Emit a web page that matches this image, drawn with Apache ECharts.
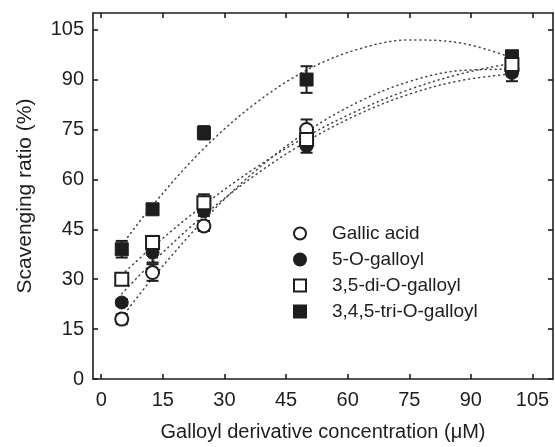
<!DOCTYPE html>
<html>
<head>
<meta charset="utf-8">
<script src="https://cdn.jsdelivr.net/npm/echarts@6/dist/echarts.min.js"></script>
<style>
  html, body { margin: 0; padding: 0; background: #fff; }
  #chart { width: 555px; height: 447px; }
</style>
</head>
<body>
<div id="chart"></div>
<script>
// ---- data ----
const xValues = [5, 12.5, 25, 50, 100];

const gallic    = [18, 32, 46, 75, 93];
const gallicErr = [1.5, 2.5, 1.5, 3, 2];
const mono      = [23, 38, 50.5, 70, 92];
const monoErr   = [1, 3, 1.5, 2, 2.5];
const di        = [30, 41, 53, 72, 94.5];
const diErr     = [1.5, 2, 2.5, 2.5, 2];
const tri       = [39, 51, 74, 90, 97];
const triErr    = [2.5, 1.5, 2, 4, 1.5];

// dotted trend curves
const trendX       = [5, 12.5, 25, 37.5, 50, 62.5, 75, 87.5, 100];
const gallicTrend  = [18.5, 30.3, 47.8, 62.5, 74.3, 83.2, 89.4, 92.7, 93.1];
const monoTrend    = [25.6, 35.1, 49.2, 61.3, 71.4, 79.5, 85.6, 89.7, 91.7];
const diTrend      = [31.3, 39.7, 52.3, 63.4, 72.9, 80.7, 87.0, 91.7, 94.9];
const triTrend     = [40.2, 52.2, 69.3, 82.8, 92.8, 99.1, 101.9, 101.0, 96.6];

const xTicks = [0, 15, 30, 45, 60, 75, 90, 105];
const yTicks = [0, 15, 30, 45, 60, 75, 90, 105];

const names = ['Gallic acid', '5-O-galloyl', '3,5-di-O-galloyl', '3,4,5-tri-O-galloyl'];

// ---- helpers ----
const INK = '#1e1e1e';
const FONT = 'Liberation Sans, Arial, sans-serif';
const pairs = (xs, ys) => xs.map((x, i) => [x, ys[i]]);
const triples = (xs, ys, es) => xs.map((x, i) => [x, ys[i], es[i]]);

function errRender(params, api) {
  const x = api.value(0), y = api.value(1), e = api.value(2);
  const top = api.coord([x, y + e]);
  const bot = api.coord([x, y - e]);
  const hw = 6;
  const st = { stroke: INK, lineWidth: 2 };
  return {
    type: 'group',
    children: [
      { type: 'line', shape: { x1: top[0], y1: top[1], x2: bot[0], y2: bot[1] }, style: st },
      { type: 'line', shape: { x1: top[0] - hw, y1: top[1], x2: top[0] + hw, y2: top[1] }, style: st },
      { type: 'line', shape: { x1: bot[0] - hw, y1: bot[1], x2: bot[0] + hw, y2: bot[1] }, style: st }
    ]
  };
}

function trend(data) {
  return {
    type: 'line', data: data, smooth: 0.35, symbol: 'none', silent: true, z: 1,
    lineStyle: { color: '#444', width: 1.5, type: [1, 4], cap: 'round' }
  };
}
function errSeries(data) {
  return { type: 'custom', renderItem: errRender, data: data, z: 2, silent: true,
           encode: { x: 0, y: 1 } };
}
function scatter(name, data, symbol, filled) {
  return {
    name: name, type: 'scatter', data: data, symbol: symbol, symbolSize: 13, z: 3,
    itemStyle: filled
      ? { color: INK, borderColor: INK, borderWidth: 1, opacity: 1 }
      : { color: '#fff', borderColor: INK, borderWidth: 2, opacity: 1 }
  };
}

const axisLine = { show: true, onZero: false, lineStyle: { color: INK, width: 1.6 } };
const tickStyle = { color: INK, width: 1.6 };

const option = {
  animation: false,
  backgroundColor: '#fff',
  grid: { left: 93, right: 2, top: 13, bottom: 68 },
  legend: {
    data: names,
    orient: 'vertical',
    left: 288, top: 219,
    itemWidth: 12, itemHeight: 12, itemGap: 7,
    textStyle: { fontSize: 19, fontFamily: FONT, color: INK, padding: [0, 0, 0, 21], lineHeight: 19 },
    selectedMode: false
  },
  xAxis: [
    {
      type: 'value', min: -2, max: 110, position: 'bottom',
      axisLine: axisLine,
      axisTick: { show: true, inside: true, length: 5, customValues: xTicks, lineStyle: tickStyle },
      axisLabel: { customValues: xTicks, fontSize: 20, fontFamily: FONT, color: INK, margin: 11 },
      splitLine: { show: false },
      name: 'Galloyl derivative concentration (\u03BCM)',
      nameLocation: 'middle', nameGap: 43,
      nameTextStyle: { fontSize: 20, fontFamily: FONT, color: INK }
    },
    {
      type: 'value', min: -2, max: 110, position: 'top',
      axisLine: axisLine,
      axisTick: { show: true, inside: true, length: 5, customValues: xTicks, lineStyle: tickStyle },
      axisLabel: { show: false },
      splitLine: { show: false }
    }
  ],
  yAxis: [
    {
      type: 'value', min: 0, max: 110, position: 'left',
      axisLine: axisLine,
      axisTick: { show: true, inside: true, length: 5, customValues: yTicks, lineStyle: tickStyle },
      axisLabel: { customValues: yTicks, fontSize: 20, fontFamily: FONT, color: INK, margin: 9 },
      splitLine: { show: false },
      name: 'Scavenging ratio (%)',
      nameLocation: 'middle', nameGap: 57,
      nameTextStyle: { fontSize: 21, fontFamily: FONT, color: INK }
    },
    {
      type: 'value', min: 0, max: 110, position: 'right',
      axisLine: axisLine,
      axisTick: { show: true, inside: true, length: 5, customValues: yTicks, lineStyle: tickStyle },
      axisLabel: { show: false },
      splitLine: { show: false }
    }
  ],
  series: [
    trend(pairs(trendX, gallicTrend)),
    trend(pairs(trendX, monoTrend)),
    trend(pairs(trendX, diTrend)),
    trend(pairs(trendX, triTrend)),
    errSeries(triples(xValues, gallic, gallicErr)),
    errSeries(triples(xValues, mono, monoErr)),
    errSeries(triples(xValues, di, diErr)),
    errSeries(triples(xValues, tri, triErr)),
    scatter(names[0], pairs(xValues, gallic), 'circle', false),
    scatter(names[1], pairs(xValues, mono), 'circle', true),
    scatter(names[3], pairs(xValues, tri), 'rect', true),
    scatter(names[2], pairs(xValues, di), 'rect', false)
  ]
};

const chart = echarts.init(document.getElementById('chart'), null, { renderer: 'canvas' });
chart.setOption(option);
</script>
</body>
</html>
